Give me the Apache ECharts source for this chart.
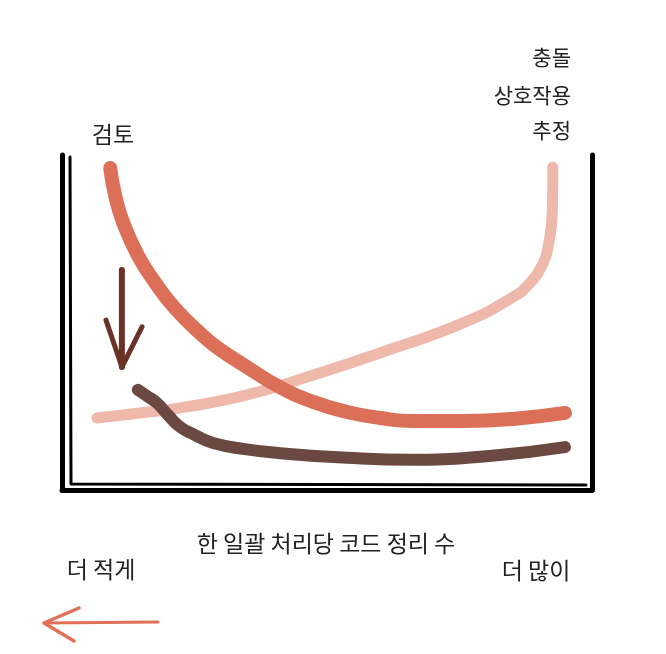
<!DOCTYPE html>
<html>
<head>
<meta charset="utf-8">
<script src="https://cdn.jsdelivr.net/npm/echarts@6/dist/echarts.min.js"></script>
<style>
    html, body { margin: 0; padding: 0; background: #fff; }
    #chart { width: 666px; height: 654px; }
</style>
</head>
<body>
<div id="chart"></div>
<script>
    // 곡선 데이터 (x: 0~100, y: 0~100)
    var reviewCurve = [[9.1, 96.1], [10.0, 88.1], [11.5, 80.0], [14.3, 70.1], [17.5, 62.1], [21.3, 54.3], [26.4, 46.3], [29.4, 42.4], [34.9, 36.7], [41.1, 30.7], [47.4, 26.3], [53.8, 23.3], [60.0, 21.5], [66.2, 20.6], [75.7, 20.6], [85.1, 21.2], [94.9, 23.0]];
    var conflictCurve = [[6.6, 21.5], [14.7, 23.0], [22.3, 24.5], [34.9, 28.4], [47.4, 34.3], [60.0, 40.9], [75.7, 49.9], [85.1, 57.6], [88.3, 61.8], [90.8, 67.8], [91.7, 72.5], [92.5, 82.7], [92.6, 92.5], [92.6, 96.4]];
    var improvedCurve = [[14.3, 29.9], [16.0, 28.1], [17.9, 26.0], [20.0, 22.4], [22.3, 18.8], [25.1, 16.4], [28.5, 14.0], [34.5, 12.2], [41.1, 11.0], [53.8, 9.6], [66.2, 9.0], [82.1, 10.4], [94.9, 12.8]];
    var arrowShaft = [[11.3, 65.7], [11.3, 36.7]];
    var arrowHead = [[8.3, 50.7], [11.3, 36.7], [15.1, 48.7]];

    var yLabel = '검토';
    var yLabelRight = ['충돌', '상호작용', '추정'];
    var xLabel = '한 일괄 처리당 코드 정리 수';
    var xLeft = '더 적게';
    var xRight = '더 많이';

    var FONT = '"Noto Sans CJK KR", "Noto Sans", sans-serif';
    var TEXT_COLOR = '#222';

    var chart = echarts.init(document.getElementById('chart'), null, { renderer: 'canvas' });

    function curve(data, color, width, smooth) {
        return {
            type: 'line',
            data: data,
            smooth: smooth,
            symbol: 'none',
            silent: true,
            lineStyle: { color: color, width: width, cap: 'round', join: 'round' }
        };
    }

    function text(x, y, str, size, align) {
        return {
            type: 'text',
            x: x,
            y: y,
            style: {
                text: str,
                font: size + 'px ' + FONT,
                fill: TEXT_COLOR,
                align: align || 'center',
                verticalAlign: 'middle'
            }
        };
    }

    var hiddenAxis = {
        axisTick: { show: false }, axisLabel: { show: false }, splitLine: { show: false }
    };

    var option = {
        animation: false,
        grid: { left: 62, right: 74, top: 155, bottom: 164 },
        xAxis: Object.assign({
            type: 'value', min: 0, max: 100,
            axisLine: { show: true, lineStyle: { color: '#000', width: 5, cap: 'round' } }
        }, hiddenAxis),
        yAxis: [Object.assign({
            type: 'value', min: 0, max: 100, position: 'left',
            axisLine: { show: true, lineStyle: { color: '#000', width: 5, cap: 'round' } }
        }, hiddenAxis), Object.assign({
            type: 'value', min: 0, max: 100, position: 'right',
            axisLine: { show: true, lineStyle: { color: '#000', width: 5, cap: 'round' } }
        }, hiddenAxis)],
        series: [
            curve(conflictCurve, '#eeb8ab', 11, 0.5),
            curve(reviewCurve, '#db6f57', 14, 0.5),
            curve(improvedCurve, '#6b4841', 12, 0.5),
            curve(arrowShaft, '#6b3228', 6, false),
            curve(arrowHead, '#6b3228', 5, false)
        ],
        graphic: [
            // 손그림 느낌의 이중 테두리
            { type: 'polyline', shape: { points: [[70, 157], [71, 484], [586, 485]] }, style: { stroke: '#000', lineWidth: 3, fill: null, lineCap: 'round', lineJoin: 'round' } },
            // 하단 왼쪽 화살표
            { type: 'polyline', shape: { points: [[158, 622], [44, 623]] }, style: { stroke: '#e07058', lineWidth: 3, fill: null, lineCap: 'round' } },
            { type: 'polyline', shape: { points: [[79, 608], [44, 623], [74, 641]] }, style: { stroke: '#e07058', lineWidth: 3.5, fill: null, lineCap: 'round', lineJoin: 'round' } },
            text(113, 134, yLabel, 23),
            text(571, 57, yLabelRight[0], 21, 'right'),
            text(571, 95, yLabelRight[1], 21, 'right'),
            text(571, 130, yLabelRight[2], 21, 'right'),
            text(326, 543, xLabel, 23),
            text(101, 569, xLeft, 23),
            text(536, 570, xRight, 23)
        ]
    };

    chart.setOption(option);
</script>
</body>
</html>
